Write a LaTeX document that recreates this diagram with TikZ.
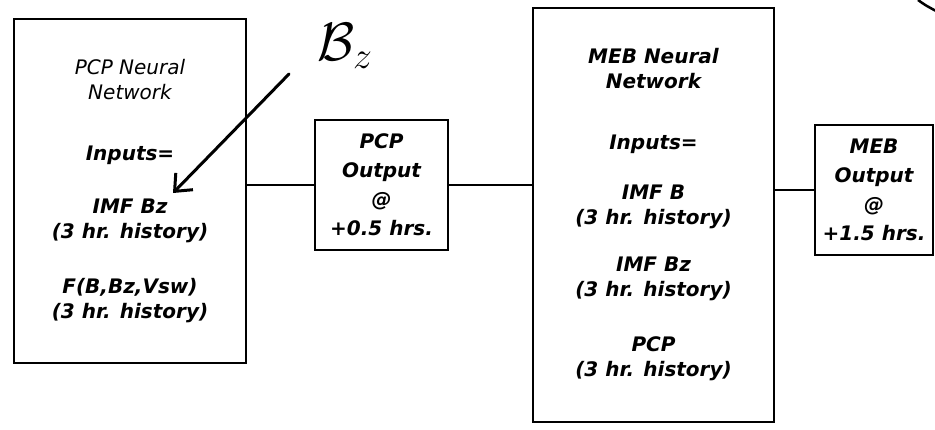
\RequirePackage{fix-cm}
\documentclass[tikz,border=0pt]{standalone}
\usepackage{fontspec}
\setmainfont{DejaVu Sans}
\usetikzlibrary{arrows.meta}
\tikzset{
  nnbox/.style={rectangle, draw=black, line width=2.5pt, align=center, inner sep=0pt,
                font=\fontsize{20}{25}\selectfont\bfseries\itshape},
  outbox/.style={rectangle, draw=black, line width=2.5pt, align=center, inner sep=0pt,
                 font=\fontsize{20}{29}\selectfont\bfseries\itshape},
  link/.style={line width=2.5pt, draw=black},
  handarr/.style={-{Straight Barb[length=14pt,width=24pt]}, line width=3pt, line cap=round},
}
\begin{document}
\begin{tikzpicture}[x=1pt, y=-1pt]
\useasboundingbox (0,0) rectangle (935,429);
\node[nnbox, minimum width=232pt, minimum height=344pt] (nnpcp) at (130,191) {\textmd{PCP Neural}\\\textmd{Network}\\[36pt]Inputs=\\[28pt]IMF Bz\\(3 hr. history)\\[30pt]F(B,Bz,Vsw)\\(3 hr. history)};
\node[outbox, minimum width=133pt, minimum height=130pt] (outpcp) at (381.5,185) {PCP\\Output\\@\\+0.5 hrs.};
\node[nnbox, minimum width=241pt, minimum height=414pt] (nnmeb) at (653.5,215) {MEB Neural\\Network\\[36pt]Inputs=\\[25pt]IMF B\\(3 hr. history)\\[22pt]IMF Bz\\(3 hr. history)\\[30pt]PCP\\(3 hr. history)};
\node[outbox, minimum width=118pt, minimum height=130pt] (outmeb) at (874,190) {MEB\\Output\\@\\+1.5 hrs.};
\draw[link] (outpcp.west -| nnpcp.east) -- (outpcp.west);
\draw[link] (outpcp.east) -- (outpcp.east -| nnmeb.west);
\draw[link] (outmeb.west -| nnmeb.east) -- (outmeb.west);
% handwritten note
\node (bzlab) at (345,46) {\fontsize{54}{54}\selectfont$\mathcal{B}_{z}$};
\coordinate (bztail) at (289,74);
\coordinate (bztip) at (173,193);
\draw[handarr] (bztail) -- (bztip);
\draw[line width=2.5pt] (918,0) .. controls (925,5) .. (936,11);
\end{tikzpicture}
\end{document}
